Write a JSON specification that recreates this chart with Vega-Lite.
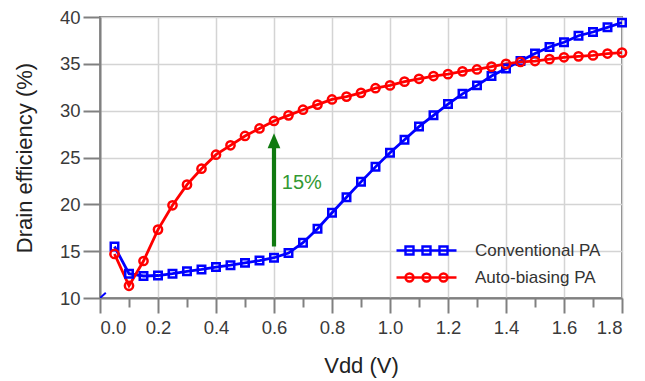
{
  "$schema": "https://vega.github.io/schema/vega-lite/v6.json",
  "width": 522,
  "height": 281,
  "autosize": "none",
  "padding": {"left": 100, "top": 17, "right": 23, "bottom": 83},
  "background": "white",
  "config": {
    "font": "Liberation Sans",
    "view": {"stroke": "#808080", "strokeWidth": 2},
    "axis": {
      "labelFont": "Liberation Sans",
      "titleFont": "Liberation Sans",
      "labelFontSize": 18.5,
      "labelColor": "#3a3a3a",
      "titleFontSize": 22,
      "titleFontWeight": "normal",
      "titleColor": "#222222",
      "domainColor": "#808080",
      "domainWidth": 2,
      "tickColor": "#808080",
      "tickWidth": 2,
      "gridColor": "#d4d4d4",
      "gridWidth": 1.5
    }
  },
  "datasets": {
    "pa": [
      {"v": 0.05, "s": "Conventional PA", "e": 15.5},
      {"v": 0.1, "s": "Conventional PA", "e": 12.6},
      {"v": 0.15, "s": "Conventional PA", "e": 12.35},
      {"v": 0.2, "s": "Conventional PA", "e": 12.4},
      {"v": 0.25, "s": "Conventional PA", "e": 12.6},
      {"v": 0.3, "s": "Conventional PA", "e": 12.85},
      {"v": 0.35, "s": "Conventional PA", "e": 13.05},
      {"v": 0.4, "s": "Conventional PA", "e": 13.3},
      {"v": 0.45, "s": "Conventional PA", "e": 13.5},
      {"v": 0.5, "s": "Conventional PA", "e": 13.75},
      {"v": 0.55, "s": "Conventional PA", "e": 14.0},
      {"v": 0.6, "s": "Conventional PA", "e": 14.3},
      {"v": 0.65, "s": "Conventional PA", "e": 14.8},
      {"v": 0.7, "s": "Conventional PA", "e": 15.9},
      {"v": 0.75, "s": "Conventional PA", "e": 17.4},
      {"v": 0.8, "s": "Conventional PA", "e": 19.1},
      {"v": 0.85, "s": "Conventional PA", "e": 20.75},
      {"v": 0.9, "s": "Conventional PA", "e": 22.4},
      {"v": 0.95, "s": "Conventional PA", "e": 24.0},
      {"v": 1.0, "s": "Conventional PA", "e": 25.5},
      {"v": 1.05, "s": "Conventional PA", "e": 26.9},
      {"v": 1.1, "s": "Conventional PA", "e": 28.3},
      {"v": 1.15, "s": "Conventional PA", "e": 29.5},
      {"v": 1.2, "s": "Conventional PA", "e": 30.7},
      {"v": 1.25, "s": "Conventional PA", "e": 31.8},
      {"v": 1.3, "s": "Conventional PA", "e": 32.7},
      {"v": 1.35, "s": "Conventional PA", "e": 33.7},
      {"v": 1.4, "s": "Conventional PA", "e": 34.5},
      {"v": 1.45, "s": "Conventional PA", "e": 35.3},
      {"v": 1.5, "s": "Conventional PA", "e": 36.1},
      {"v": 1.55, "s": "Conventional PA", "e": 36.8},
      {"v": 1.6, "s": "Conventional PA", "e": 37.3},
      {"v": 1.65, "s": "Conventional PA", "e": 38.0},
      {"v": 1.7, "s": "Conventional PA", "e": 38.4},
      {"v": 1.75, "s": "Conventional PA", "e": 38.9},
      {"v": 1.8, "s": "Conventional PA", "e": 39.4},
      {"v": 0.05, "s": "Auto-biasing PA", "e": 14.7},
      {"v": 0.1, "s": "Auto-biasing PA", "e": 11.3},
      {"v": 0.15, "s": "Auto-biasing PA", "e": 13.95},
      {"v": 0.2, "s": "Auto-biasing PA", "e": 17.3},
      {"v": 0.25, "s": "Auto-biasing PA", "e": 19.9},
      {"v": 0.3, "s": "Auto-biasing PA", "e": 22.1},
      {"v": 0.35, "s": "Auto-biasing PA", "e": 23.8},
      {"v": 0.4, "s": "Auto-biasing PA", "e": 25.3},
      {"v": 0.45, "s": "Auto-biasing PA", "e": 26.3},
      {"v": 0.5, "s": "Auto-biasing PA", "e": 27.3},
      {"v": 0.55, "s": "Auto-biasing PA", "e": 28.1},
      {"v": 0.6, "s": "Auto-biasing PA", "e": 28.9},
      {"v": 0.65, "s": "Auto-biasing PA", "e": 29.5},
      {"v": 0.7, "s": "Auto-biasing PA", "e": 30.1},
      {"v": 0.75, "s": "Auto-biasing PA", "e": 30.65},
      {"v": 0.8, "s": "Auto-biasing PA", "e": 31.2},
      {"v": 0.85, "s": "Auto-biasing PA", "e": 31.5},
      {"v": 0.9, "s": "Auto-biasing PA", "e": 31.9},
      {"v": 0.95, "s": "Auto-biasing PA", "e": 32.4},
      {"v": 1.0, "s": "Auto-biasing PA", "e": 32.7},
      {"v": 1.05, "s": "Auto-biasing PA", "e": 33.1},
      {"v": 1.1, "s": "Auto-biasing PA", "e": 33.4},
      {"v": 1.15, "s": "Auto-biasing PA", "e": 33.7},
      {"v": 1.2, "s": "Auto-biasing PA", "e": 33.9},
      {"v": 1.25, "s": "Auto-biasing PA", "e": 34.2},
      {"v": 1.3, "s": "Auto-biasing PA", "e": 34.4},
      {"v": 1.35, "s": "Auto-biasing PA", "e": 34.7},
      {"v": 1.4, "s": "Auto-biasing PA", "e": 35.0},
      {"v": 1.45, "s": "Auto-biasing PA", "e": 35.2},
      {"v": 1.5, "s": "Auto-biasing PA", "e": 35.3},
      {"v": 1.55, "s": "Auto-biasing PA", "e": 35.5},
      {"v": 1.6, "s": "Auto-biasing PA", "e": 35.7},
      {"v": 1.65, "s": "Auto-biasing PA", "e": 35.8},
      {"v": 1.7, "s": "Auto-biasing PA", "e": 35.9},
      {"v": 1.75, "s": "Auto-biasing PA", "e": 36.1},
      {"v": 1.8, "s": "Auto-biasing PA", "e": 36.2}
    ],
    "stray": [
      {"v": 0.0, "e": 10.0},
      {"v": 0.02, "e": 10.55}
    ],
    "arrow": [
      {"v": 0.6, "y1": 15.5, "y2": 26.1, "tip": 26.8, "label": "15%", "lx": 0.627, "ly": 22.3}
    ]
  },
  "resolve": {"axis": {"x": "independent"}},
  "layer": [
    {
      "data": {"name": "pa"},
      "mark": {"type": "line", "strokeWidth": 2.8, "clip": true},
      "encoding": {
        "x": {
          "field": "v", "type": "quantitative",
          "scale": {"domain": [0, 1.8], "nice": false, "zero": false},
          "axis": {
            "orient": "bottom",
            "title": "Vdd (V)",
            "values": [0, 0.2, 0.4, 0.6, 0.8, 1.0, 1.2, 1.4, 1.6, 1.8],
            "format": ".1f",
            "tickSize": 15,
            "labelPadding": 5,
            "titlePadding": 19,
            "grid": true
          }
        },
        "y": {
          "field": "e", "type": "quantitative",
          "scale": {"domain": [10, 40], "nice": false, "zero": false},
          "axis": {
            "title": "Drain efficiency (%)",
            "values": [10, 15, 20, 25, 30, 35, 40],
            "tickSize": 17,
            "labelPadding": 3,
            "titlePadding": 23,
            "grid": true
          }
        },
        "color": {
          "field": "s", "type": "nominal",
          "scale": {"domain": ["Conventional PA", "Auto-biasing PA"], "range": ["#0000ff", "#ff0000"]},
          "legend": {
            "title": null,
            "orient": "none",
            "legendX": 318,
            "legendY": 225,
            "symbolSize": 100,
            "symbolStrokeWidth": 2.4,
            "symbolType": "stroke",
            "labelFontSize": 17,
            "labelFont": "Liberation Sans",
            "labelColor": "#333333",
            "labelOffset": 40,
            "rowPadding": 8,
            "encode": {
              "symbols": {
                "update": {
                  "shape": {"signal": "datum.value === 'Conventional PA' ? 'M-6,0H6M-4.2,-0.8H-2.6V0.8H-4.2ZM-0.8,-0.8H0.8V0.8H-0.8ZM2.6,-0.8H4.2V0.8H2.6Z' : 'M-6,0H6M-2.6,0A0.8,0.8 0 1,1 -4.2,0A0.8,0.8 0 1,1 -2.6,0ZM0.8,0A0.8,0.8 0 1,1 -0.8,0A0.8,0.8 0 1,1 0.8,0ZM4.2,0A0.8,0.8 0 1,1 2.6,0A0.8,0.8 0 1,1 4.2,0Z'"},
                  "fill": {"value": "transparent"},
                  "stroke": {"signal": "datum.value === 'Conventional PA' ? '#0000ff' : '#ff0000'"},
                  "strokeWidth": {"value": 2.4}
                }
              }
            }
          }
        },
        "order": {"field": "v", "type": "quantitative"}
      }
    },
    {
      "data": {"name": "pa"},
      "transform": [{"filter": "datum.s === 'Conventional PA'"}],
      "mark": {"type": "point", "shape": "square", "size": 56, "filled": false, "strokeWidth": 2.5, "opacity": 1, "color": "#0000ff"},
      "encoding": {
        "x": {"field": "v", "type": "quantitative", "axis": null},
        "y": {"field": "e", "type": "quantitative"}
      }
    },
    {
      "data": {"name": "pa"},
      "transform": [{"filter": "datum.s === 'Auto-biasing PA'"}],
      "mark": {"type": "point", "shape": "circle", "size": 68, "filled": false, "strokeWidth": 2.5, "opacity": 1, "color": "#ff0000"},
      "encoding": {
        "x": {"field": "v", "type": "quantitative", "axis": null},
        "y": {"field": "e", "type": "quantitative"}
      }
    },
    {
      "data": {"name": "stray"},
      "mark": {"type": "line", "strokeWidth": 2, "color": "#0000ff", "clip": true},
      "encoding": {
        "x": {
          "field": "v", "type": "quantitative",
          "axis": {
            "orient": "bottom",
            "values": [0.1, 0.3, 0.5, 0.7, 0.9, 1.1, 1.3, 1.5, 1.7],
            "tickSize": 9,
            "labels": false,
            "domain": false,
            "grid": false,
            "title": null
          }
        },
        "y": {"field": "e", "type": "quantitative"}
      }
    },
    {
      "data": {"name": "arrow"},
      "mark": {"type": "rule", "strokeWidth": 4.2, "color": "#107a10"},
      "encoding": {
        "x": {"field": "v", "type": "quantitative", "axis": null},
        "y": {"field": "y1", "type": "quantitative"},
        "y2": {"field": "y2"}
      }
    },
    {
      "data": {"name": "arrow"},
      "mark": {"type": "point", "shape": "M0,-1L-0.85,1L0.85,1Z", "size": 225, "filled": true, "opacity": 1, "color": "#107a10"},
      "encoding": {
        "x": {"field": "v", "type": "quantitative", "axis": null},
        "y": {"field": "tip", "type": "quantitative"}
      }
    },
    {
      "data": {"name": "arrow"},
      "mark": {"type": "text", "align": "left", "baseline": "middle", "fontSize": 20, "font": "Liberation Sans", "color": "#339933"},
      "encoding": {
        "x": {"field": "lx", "type": "quantitative", "axis": null},
        "y": {"field": "ly", "type": "quantitative"},
        "text": {"field": "label"}
      }
    }
  ]
}
